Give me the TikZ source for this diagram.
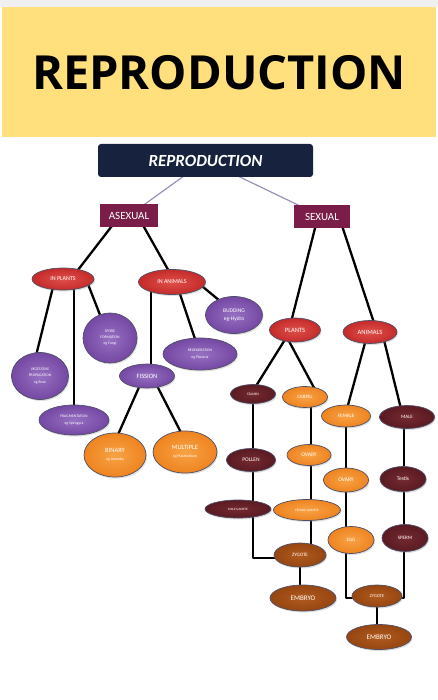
\documentclass[tikz,border=0pt]{standalone}
\usepackage{fontspec}
\setmainfont{Carlito}
\newfontfamily\bannerfont{Open Sans}
\usetikzlibrary{shapes.geometric,backgrounds,shadows}
\definecolor{bannerY}{HTML}{FFE07C}
\definecolor{navyC}{HTML}{16223E}
\definecolor{boxM}{HTML}{7A1D48}
\definecolor{linkG}{HTML}{9A90B8}
\definecolor{redC}{HTML}{C42B2B}
\definecolor{redL}{HTML}{E0504A}
\definecolor{purC}{HTML}{7548A3}
\definecolor{purL}{HTML}{9670C2}
\definecolor{oraC}{HTML}{EE8420}
\definecolor{oraL}{HTML}{F8A245}
\definecolor{marC}{HTML}{5A1A22}
\definecolor{marL}{HTML}{742A30}
\definecolor{broC}{HTML}{964611}
\definecolor{broL}{HTML}{B05A1E}
\definecolor{rimC}{HTML}{4F5068}
\newcommand\fsz[2]{\fontsize{#1}{#2}\selectfont}
\tikzset{
  sqbox/.style={rectangle, fill=boxM, text=white, inner sep=0pt, font=\fsz{11}{12}},
  oval/.style={ellipse, inner sep=0pt, text=white, align=center, draw=rimC, line width=0.7pt,
     drop shadow={opacity=0.25, shadow xshift=1pt, shadow yshift=-1.5pt}},
  redov/.style={oval, inner color=redL, outer color=redC},
  purov/.style={oval, inner color=purL, outer color=purC},
  oraov/.style={oval, inner color=oraL, outer color=oraC},
  marov/.style={oval, inner color=marL, outer color=marC},
  broov/.style={oval, inner color=broL, outer color=broC},
  blk/.style={draw=black, line width=2.3pt},
  elb/.style={draw=black, line width=2.3pt, line join=round}
}
\begin{document}
\begin{tikzpicture}[x=1pt,y=-1pt]
\useasboundingbox (0,0) rectangle (438,700);
\node (banner) at (219,73) {\bannerfont\bfseries\fsz{47}{48}REPRODUCTION};

\node[rectangle, rounded corners=3pt, fill=navyC, minimum width=215pt, minimum height=33pt, inner sep=0pt,
      text=white, font=\fsz{17}{18}\bfseries\itshape] (rep) at (205.5,160.5) {REPRODUCTION};
\node[sqbox, minimum width=58pt, minimum height=23pt] (asex) at (129,215.5) {ASEXUAL};
\node[sqbox, minimum width=56pt, minimum height=23pt] (sex) at (322,216.5) {SEXUAL};

% asexual
\node[redov, minimum width=62pt, minimum height=22pt, font=\fsz{6}{7}] (inpl) at (63,279) {IN PLANTS};
\node[redov, minimum width=67pt, minimum height=25pt, font=\fsz{6}{7}] (inan) at (172,282) {IN ANIMALS};
\node[purov, minimum width=57pt, minimum height=37pt, font=\fsz{5.5}{8}] (bud) at (234,315) {BUDDING\\eg-Hydra};
\node[purov, minimum width=54pt, minimum height=50pt, font=\fsz{3.8}{6}] (spore) at (110,338) {SPORE\\FORMATION\\eg Fungi};
\node[purov, minimum width=57pt, minimum height=47pt, font=\fsz{3.8}{6.5}] (veg) at (40,376) {VEGETATIVE\\PROPAGATION\\eg Rose};
\node[purov, minimum width=70pt, minimum height=30pt, font=\fsz{3.8}{7}] (frag) at (74,420) {FRAGMENTATION\\eg Spirogyra};
\node[purov, minimum width=74pt, minimum height=32pt, font=\fsz{3.8}{7}] (regen) at (200,354) {REGENERATION\\eg Planaria};
\node[purov, minimum width=55pt, minimum height=24pt, font=\fsz{6.5}{7}] (fis) at (147,376) {FISSION};
\node[oraov, minimum width=62pt, minimum height=44pt, font=\fsz{6.5}{8}] (bin) at (115,455) {BINARY\\{\fsz{3.8}{5}eg Amoeba}};
\node[oraov, minimum width=64pt, minimum height=42pt, font=\fsz{6.5}{8}] (mult) at (185,452) {MULTIPLE\\{\fsz{3.8}{5}eg Plasmodium}};

% sexual
\node[redov, minimum width=51pt, minimum height=24pt, font=\fsz{6.5}{7}] (pl) at (295,330) {PLANTS};
\node[redov, minimum width=54pt, minimum height=23pt, font=\fsz{6.5}{7}] (an) at (370,332) {ANIMALS};
\node[marov, minimum width=45pt, minimum height=19pt, font=\fsz{3.5}{4}] (stamen) at (253,394) {STAMEN};
\node[oraov, minimum width=45pt, minimum height=21pt, font=\fsz{5}{6}] (carpel) at (305,397) {CARPEL};
\node[oraov, minimum width=49pt, minimum height=22pt, font=\fsz{5}{6}] (female) at (346,416) {FEMALE};
\node[marov, minimum width=55pt, minimum height=23pt, font=\fsz{5}{6}] (male) at (407,417) {MALE};
\node[marov, minimum width=49pt, minimum height=23pt, font=\fsz{5.5}{6}] (pollen) at (251,460) {POLLEN};
\node[oraov, minimum width=44pt, minimum height=21pt, font=\fsz{5.5}{6}] (ova1) at (309,455) {OVARY};
\node[oraov, minimum width=45pt, minimum height=24pt, font=\fsz{5.5}{6}] (ova2) at (346,480) {OVARY};
\node[marov, minimum width=46pt, minimum height=25pt, font=\fsz{5.5}{6}] (testis) at (403,479) {Testis};
\node[marov, minimum width=66pt, minimum height=18pt, font=\fsz{3.3}{4}] (mgam) at (238,509) {MALE GAMETE};
\node[oraov, minimum width=67pt, minimum height=21pt, font=\fsz{3.3}{4}] (fgam) at (307,510) {FEMALE GAMETE};
\node[oraov, minimum width=46pt, minimum height=27pt, font=\fsz{5}{6}] (egg) at (351,540) {EGG};
\node[marov, minimum width=46pt, minimum height=27pt, font=\fsz{5}{6}] (sperm) at (405,538) {SPERM};
\node[broov, minimum width=52pt, minimum height=24pt, font=\fsz{5}{6}] (zyg1) at (300,555) {ZYGOTE};
\node[broov, minimum width=66pt, minimum height=26pt, font=\fsz{7}{8}] (emb1) at (303,598) {EMBRYO};
\node[broov, minimum width=50pt, minimum height=22pt, font=\fsz{4.5}{5}] (zyg2) at (377,596) {ZYGOTE};
\node[broov, minimum width=65pt, minimum height=25pt, font=\fsz{7}{8}] (emb2) at (379,637) {EMBRYO};

\begin{scope}[on background layer]
\fill[white] (0,0) rectangle (438,700);
\fill[black!6] (0,0) rectangle (438,7);
\fill[bannerY] (2,7) rectangle (436,137);
\draw[linkG, line width=1.2pt] (rep.center) -- (asex.center);
\draw[linkG, line width=1.2pt] (rep.center) -- (sex.center);
\draw[blk] ([xshift=-9pt]asex.center) -- ([xshift=8pt]inpl.center);
\draw[blk] ([xshift=8.5pt]asex.center) -- ([xshift=3pt]inan.center);
\draw[blk] ([xshift=-8pt]inpl.center) -- ([xshift=-9pt]veg.center);
\draw[blk] (frag.center |- inpl.center) -- (frag.center);
\draw[blk] ([xshift=23pt]inpl.center) -- ([xshift=-1pt]spore.center);
\draw[blk] ([xshift=4pt]fis.center |- inan.center) -- ([xshift=4pt]fis.center);
\draw[blk] ([xshift=4pt]inan.center) -- (regen.center);
\draw[blk] ([xshift=25pt]inan.center) -- ([xshift=3pt]bud.center);
\draw[blk] ([xshift=-3pt]fis.center) -- ([xshift=-6pt]bin.center);
\draw[blk] ([xshift=5pt]fis.center) -- ([xshift=6pt]mult.center);
\draw[blk] ([xshift=-4pt]sex.center) -- ([xshift=-6pt]pl.center);
\draw[blk] ([xshift=17pt]sex.center) -- ([xshift=7pt]an.center);
\draw[blk] ([xshift=-4pt]pl.center) -- ([xshift=-2pt]stamen.center);
\draw[blk] ([xshift=-12pt]pl.center) -- ([xshift=14pt]carpel.center);
\draw[blk] ([xshift=-2pt]an.center) -- ([xshift=-1pt]female.center);
\draw[blk] ([xshift=12pt]an.center) -- ([xshift=-4pt]male.center);
\draw[elb] (stamen.center) |- ([yshift=-3pt]zyg1.center);
\draw[blk] ([xshift=6pt]carpel.center) -- ([xshift=6pt]carpel.center |- zyg1.center);
\draw[blk] (zyg1.center) -- (zyg1.center |- emb1.center);
\draw[elb] (female.center) |- ([yshift=-2pt]zyg2.center);
\draw[elb] ([xshift=-3pt]male.center) |- ([yshift=-2pt]zyg2.center);
\draw[blk] (zyg2.center) -- (zyg2.center |- emb2.center);
\end{scope}
\end{tikzpicture}
\end{document}
